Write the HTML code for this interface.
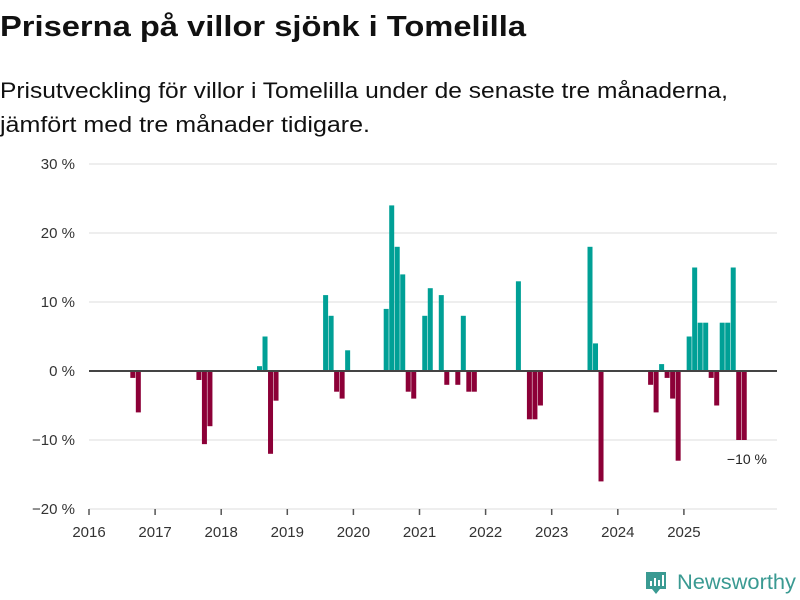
<!DOCTYPE html>
<html><head><meta charset="utf-8"><style>
html,body{margin:0;padding:0;background:#fff;width:800px;height:600px;overflow:hidden}
svg{display:block;font-family:"Liberation Sans",sans-serif}
</style></head><body>
<svg id="chart" width="800" height="600" viewBox="0 0 800 600">
<text x="0" y="36" font-size="29" font-weight="bold" fill="#111" textLength="526" lengthAdjust="spacingAndGlyphs">Priserna på villor sjönk i Tomelilla</text>
<text x="0" y="98" font-size="22" fill="#111" textLength="728" lengthAdjust="spacingAndGlyphs">Prisutveckling för villor i Tomelilla under de senaste tre månaderna,</text>
<text x="0" y="132" font-size="22" fill="#111" textLength="370" lengthAdjust="spacingAndGlyphs">jämfört med tre månader tidigare.</text>
<g id="grid"></g><g id="bars"></g><g id="axes"></g>
<text x="767" y="464" font-size="14" fill="#222" text-anchor="end">−10 %</text>
<g>
<path d="M646 572 h20 v17 h-6 l-4 5 l-4 -5 h-6 z" fill="#3a9a92"/>
<rect x="650" y="581" width="2" height="5" fill="#fff"/><rect x="654" y="578" width="2" height="8" fill="#fff"/><rect x="658" y="580" width="2" height="6" fill="#fff"/><rect x="662" y="575" width="2" height="11" fill="#fff"/>
<text x="677" y="589" font-size="21" fill="#3a9a92" textLength="119" lengthAdjust="spacingAndGlyphs">Newsworthy</text>
</g>
</svg>
<script>
const months = ["2016-09","2016-10","2017-09","2017-10","2017-11","2018-08","2018-09","2018-10","2018-11","2019-08","2019-09","2019-10","2019-11","2019-12","2020-07","2020-08","2020-09","2020-10","2020-11","2020-12","2021-02","2021-03","2021-05","2021-06","2021-08","2021-09","2021-10","2021-11","2022-07","2022-09","2022-10","2022-11","2023-08","2023-09","2023-10","2024-07","2024-08","2024-09","2024-10","2024-11","2024-12","2025-02","2025-03","2025-04","2025-05","2025-06","2025-07","2025-08","2025-09","2025-10","2025-11","2025-12"];
const values = [-1,-6,-1.3,-10.6,-8,0.7,5,-12,-4.3,11,8,-3,-4,3,9,24,18,14,-3,-4,8,12,11,-2,-2,8,-3,-3,13,-7,-7,-5,18,4,-16,-2,-6,1,-1,-4,-13,5,15,7,7,-1,-5,7,7,15,-10,-10];
const yTicks = [30,20,10,0,-10,-20];
const yTickLabels = ["30 %","20 %","10 %","0 %","−10 %","−20 %"];
const years = [2016,2017,2018,2019,2020,2021,2022,2023,2024,2025];
const NS="http://www.w3.org/2000/svg";
const x0=89, x1=777, yearW=66.1;
function xScale(yr,mo){return x0+(yr-2016)*yearW+mo*yearW/12;}
function yScale(v){return 371-v*6.9;}
function mk(tag,attrs,parent){const e=document.createElementNS(NS,tag);for(const k in attrs)e.setAttribute(k,attrs[k]);parent.appendChild(e);return e;}
const grid=document.getElementById('grid'),bars=document.getElementById('bars'),axes=document.getElementById('axes');
yTicks.forEach((t,i)=>{
  if(t!==0&&t!==-20){const l=mk('line',{x1:x0,x2:x1,y1:yScale(t),y2:yScale(t),stroke:'#ddd','stroke-width':1},grid);
  
  }
  const tx=mk('text',{x:75,y:yScale(t)+5,'font-size':15,fill:'#333','text-anchor':'end'},axes);
  tx.textContent=yTickLabels[i];
  
  
});
months.forEach((m,i)=>{
  const [yr,mo]=m.split('-').map(Number);
  const v=values[i];
  const cx=xScale(yr,mo-1);
  const y=Math.min(yScale(v),yScale(0));
  const r=mk('rect',{x:cx-2.75,y:y,width:5,height:Math.abs(yScale(v)-yScale(0)),fill:v>=0?'#00a096':'#8c0037'},bars);
  
  
});
const bl=mk('line',{x1:x0,x2:x1,y1:509,y2:509,stroke:'#ddd','stroke-width':1},axes);


const zl=mk('line',{x1:x0,x2:x1,y1:yScale(0),y2:yScale(0),stroke:'#444','stroke-width':2},axes);


years.forEach(yr=>{
  const x=xScale(yr,0);
  const tk=mk('line',{x1:x,x2:x,y1:509,y2:515,stroke:'#555','stroke-width':1.5},axes);
  
  
  const tx=mk('text',{x:x,y:537,'font-size':15,fill:'#333','text-anchor':'middle'},axes);
  tx.textContent=yr;
  
  
});
</script>
</body></html>
